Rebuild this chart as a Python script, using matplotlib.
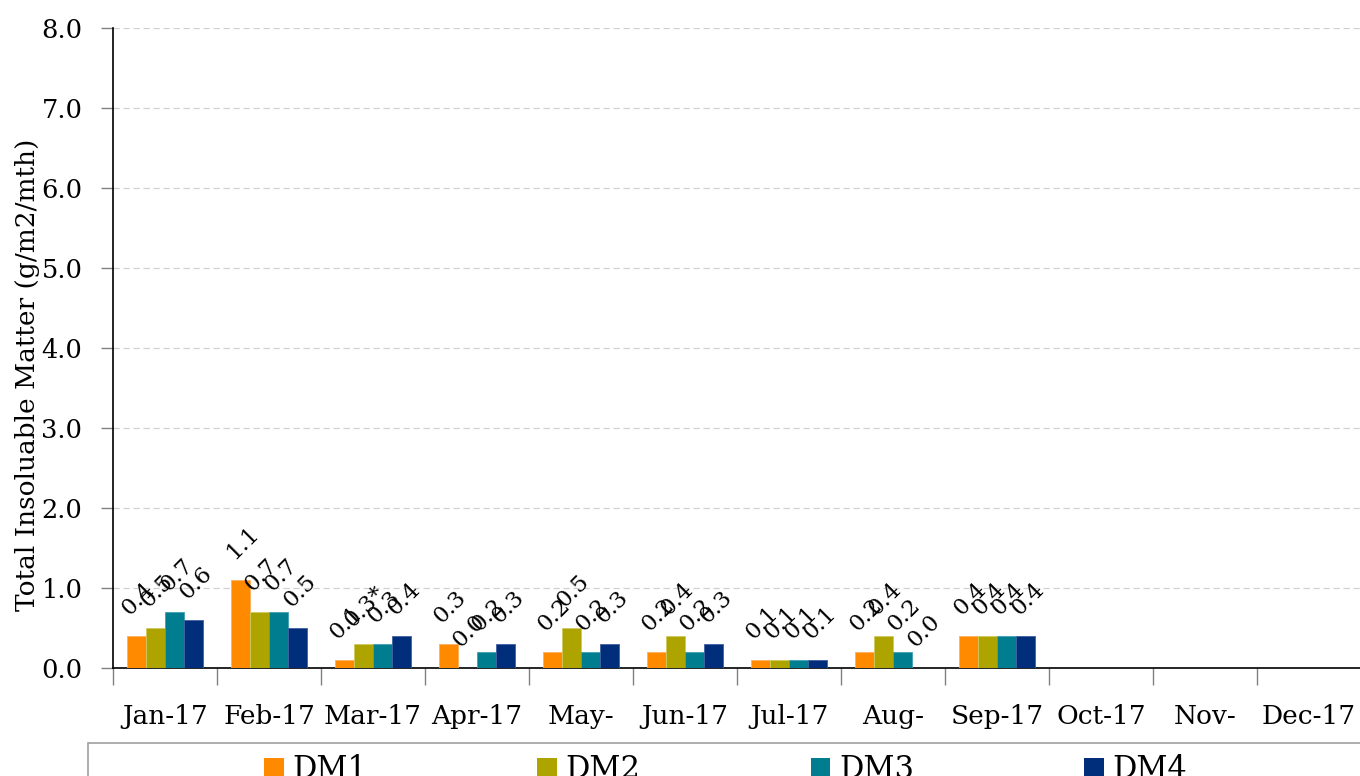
import matplotlib
matplotlib.use("Agg")
import matplotlib.pyplot as plt
import numpy as np
from matplotlib.patches import Rectangle, Patch

months = ["Jan-17", "Feb-17", "Mar-17", "Apr-17", "May-", "Jun-17",
          "Jul-17", "Aug-", "Sep-17", "Oct-17", "Nov-", "Dec-17"]
series_names = ["DM1", "DM2", "DM3", "DM4"]
dm1 = [0.4, 1.1, 0.1, 0.3, 0.2, 0.2, 0.1, 0.2, 0.4, None, None, None]
dm2 = [0.5, 0.7, 0.3, 0.0, 0.5, 0.4, 0.1, 0.4, 0.4, None, None, None]
dm3 = [0.7, 0.7, 0.3, 0.2, 0.2, 0.2, 0.1, 0.2, 0.4, None, None, None]
dm4 = [0.6, 0.5, 0.4, 0.3, 0.3, 0.3, 0.1, 0.0, 0.4, None, None, None]
dm2_labels = ["0.5", "0.7", "0.3*", "0.0", "0.5", "0.4", "0.1", "0.4", "0.4", "", "", ""]
colors = ["#FF8A00", "#ADA400", "#007D8F", "#002E7A"]
edges = ["#FFB060", "#D0C860", "#40A0B0", "#4060A0"]
yticks = [0, 1, 2, 3, 4, 5, 6, 7, 8]
ylabel = "Total Insoluable Matter (g/m2/mth)"

FONT = "DejaVu Serif"
plt.rcParams["font.family"] = FONT

fig = plt.figure(figsize=(13.6, 7.76), dpi=100)
W, H = 1360, 776
ax = fig.add_axes([113 / W, (H - 668) / H, 1248 / W, 640 / H])

series = [dm1, dm2, dm3, dm4]
x = np.arange(len(months))
bw = 0.183
for i, (vals, c, ec) in enumerate(zip(series, colors, edges)):
    v = np.array([np.nan if a is None else a for a in vals], dtype=float)
    xs = x + (i - 1.5) * bw
    ax.bar(xs, v, width=bw, color=c, edgecolor=ec, linewidth=0.6, zorder=3)
    for j, val in enumerate(vals):
        if val is None:
            continue
        lab = dm2_labels[j] if i == 1 else f"{val:.1f}"
        ax.annotate(lab, (xs[j], val), xytext=(1.5, 27), textcoords="offset points",
                    rotation=45, ha="center", va="center", rotation_mode="anchor",
                    fontsize=16.5, zorder=4)

ax.set_xlim(-0.5, len(months) - 0.5)
ax.set_ylim(0, 8)
ax.set_yticks(yticks)
ax.set_yticklabels([f"{t:.1f}" for t in yticks], fontsize=18.5)
ax.yaxis.grid(True, linestyle=(0, (5, 3)), color="#D0D0D0", linewidth=0.9, zorder=0)
ax.tick_params(axis="y", length=9, width=1, color="#808080", pad=13)

ax.set_xticks(np.arange(len(months) + 1) - 0.5)
ax.set_xticklabels([])
ax.tick_params(axis="x", which="major", length=12, width=1, color="#808080")
ax.set_xticks(x, minor=True)
ax.set_xticklabels(months, minor=True, fontsize=19)
ax.tick_params(axis="x", which="minor", length=0, pad=26)

for s in ["top", "right"]:
    ax.spines[s].set_visible(False)
ax.spines["left"].set_color("black")
ax.spines["bottom"].set_color("black")
ax.spines["left"].set_linewidth(1.2)
ax.spines["bottom"].set_linewidth(1.2)

ax.set_ylabel(ylabel, fontsize=19, va="center")
ax.yaxis.set_label_coords((28 - 113) / 1248, (668 - 375) / 640)

# legend frame
fig.patches.append(Rectangle((88 / W, -0.1), 1.2, (H - 743) / H + 0.1,
                             transform=fig.transFigure, facecolor="white",
                             edgecolor="#A0A0A0", linewidth=1.2))
handles = [Patch(facecolor=c, edgecolor="none") for c in colors]
fig.legend(handles, series_names, ncol=4, mode="expand", frameon=False,
           bbox_to_anchor=(264 / W, (H - 770) / H, (1187 - 264) / W, 0.0),
           loc="center left", borderpad=0, borderaxespad=0,
           fontsize=22, handlelength=0.65, handleheight=0.65, handletextpad=0.28)

fig.savefig("out.png", dpi=100)
